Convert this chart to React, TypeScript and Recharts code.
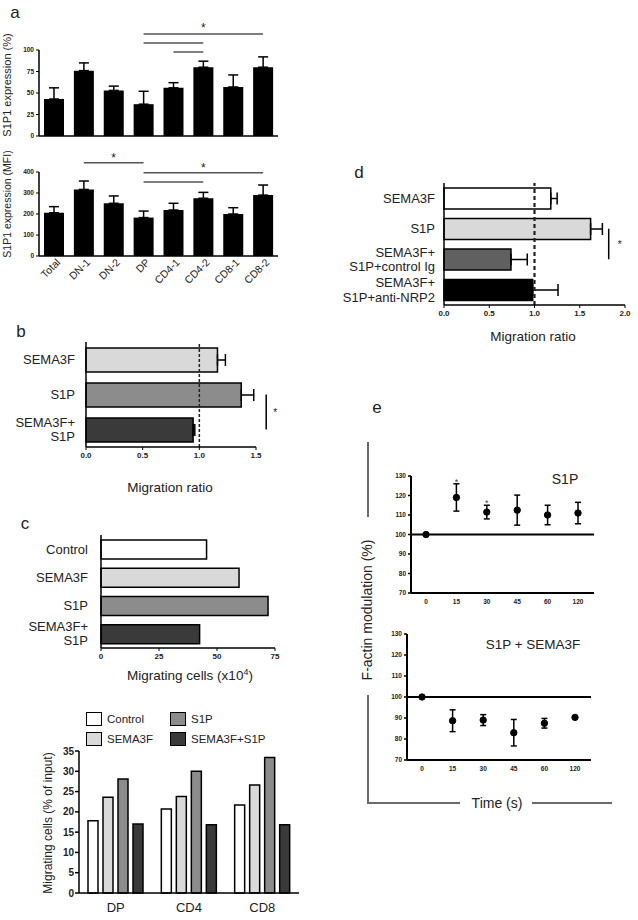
import React from "react";
import {
  BarChart,
  Bar,
  XAxis,
  YAxis,
  ErrorBar,
  ReferenceLine,
  Cell,
  ComposedChart,
  Line,
  LabelList,
} from "recharts";

const FONT = "'Liberation Sans', Arial, Helvetica, sans-serif";
const INK = "#222";
const PAGE_W = 638;
const PAGE_H = 920;

// panel a: S1P1 expression per thymocyte subset
const subsets = ["Total", "DN-1", "DN-2", "DP", "CD4-1", "CD4-2", "CD8-1", "CD8-2"];
const s1p1Pct = [43, 76, 53, 37, 56, 80, 57, 80];
const s1p1PctErr = [13, 9, 5, 15, 6, 7, 14, 12];
const s1p1Mfi = [206, 317, 251, 183, 219, 275, 200, 290];
const s1p1MfiErr = [29, 40, 35, 31, 32, 28, 30, 48];
const pctTicks = [0, 25, 50, 75, 100];
const mfiTicks = [0, 100, 200, 300, 400];

// panel b: migration ratio
const bGroups = ["SEMA3F", "S1P", "SEMA3F+\nS1P"];
const bRatio = [1.16, 1.37, 0.945];
const bErr = [0.07, 0.11, 0.015];
const bFill = ["#d9d9d9", "#8c8c8c", "#3a3a3a"];
const ratioTicks15 = [0, 0.5, 1, 1.5];

// panel c: migrating cells
const cGroups = ["Control", "SEMA3F", "S1P", "SEMA3F+\nS1P"];
const cCells = [45.5, 59.5, 72, 42.5];
const cFill = ["#ffffff", "#d9d9d9", "#8c8c8c", "#3a3a3a"];
const cTicks = [0, 25, 50, 75];

// panel c lower: % of input per subset
const migSubsets = ["DP", "CD4", "CD8"];
const migSeries = ["Control", "SEMA3F", "S1P", "SEMA3F+S1P"];
const migControl = [17.8, 20.7, 21.7];
const migSema = [23.6, 23.8, 26.6];
const migS1p = [28.1, 30, 33.4];
const migBoth = [17, 16.8, 16.8];
const migFill = ["#ffffff", "#d9d9d9", "#8c8c8c", "#3a3a3a"];
const migTicks = [0, 5, 10, 15, 20, 25, 30, 35];

// panel d: migration ratio with NRP2 blocking
const dGroups = ["SEMA3F", "S1P", "SEMA3F+\nS1P+control Ig", "SEMA3F+\nS1P+anti-NRP2"];
const dRatio = [1.18, 1.62, 0.74, 0.98];
const dErr = [0.07, 0.13, 0.18, 0.28];
const dFill = ["#ffffff", "#d9d9d9", "#606060", "#000000"];
const ratioTicks20 = [0, 0.5, 1, 1.5, 2];

// panel e: F-actin modulation over time
const times = ["0", "15", "30", "45", "60", "120"];
const s1pActin = [100, 119, 111.5, 112.5, 110, 111];
const s1pActinErr = [0, 7, 3.5, 7.7, 5, 5.5];
const s1pStar = [null, 128, 117, null, null, null];
const bothActin = [100, 88.7, 89, 83, 87.5, 90.3];
const bothActinErr = [0, 5.2, 2.6, 6.3, 2.3, 0.4];
const actinTicks = [70, 80, 90, 100, 110, 120, 130];

const aData = subsets.map((name, i) => ({
  name,
  pct: s1p1Pct[i],
  pctErr: [0, s1p1PctErr[i]],
  mfi: s1p1Mfi[i],
  mfiErr: [0, s1p1MfiErr[i]],
}));
const bData = bGroups.map((name, i) => ({ name, v: bRatio[i], e: [0, bErr[i]] }));
const cData = cGroups.map((name, i) => ({ name, v: cCells[i] }));
const migData = migSubsets.map((name, i) => ({
  name,
  Control: migControl[i],
  SEMA3F: migSema[i],
  S1P: migS1p[i],
  "SEMA3F+S1P": migBoth[i],
}));
const dData = dGroups.map((name, i) => ({ name, v: dRatio[i], e: [0, dErr[i]] }));
const e1Data = times.map((t, i) => ({ t, v: s1pActin[i], e: s1pActinErr[i], star: s1pStar[i] }));
const e2Data = times.map((t, i) => ({ t, v: bothActin[i], e: bothActinErr[i] }));

// every chart covers the whole page; margins put its plot box in place
function frame(x0: number, y0: number, x1: number, y1: number, yw: number, xh: number) {
  return {
    width: PAGE_W,
    height: PAGE_H,
    margin: { top: y0, right: PAGE_W - x1, bottom: PAGE_H - y1 - xh, left: x0 - yw },
  };
}

const axisLine = { stroke: "#000", strokeWidth: 1.5 };
const tinyTick = { fontSize: 6.5, fontWeight: 700, fill: INK, fontFamily: FONT };
const smallTick = { fontSize: 8, fontWeight: 700, fill: INK, fontFamily: FONT };
const sigLine = { stroke: "#555", strokeWidth: 1.5 };
const starLabel = (pos: string, offset: number, size = 12) => ({
  value: "*",
  position: pos,
  offset,
  fontSize: size,
  fill: INK,
  fontFamily: FONT,
});

function catTick(size: number, lh: number) {
  return (props: any) => {
    const { x, y, payload } = props;
    const lines = String(payload.value).split("\n");
    const n = lines.length;
    return (
      <text x={x} y={y} textAnchor="end" fontSize={size} fill={INK} fontFamily={FONT}>
        {lines.map((l, i) => (
          <tspan key={i} x={x} y={y + (i - (n - 1) / 2) * lh + size * 0.35}>
            {l}
          </tspan>
        ))}
      </text>
    );
  };
}

const SlantTick = (props: any) => {
  const { x, y, payload } = props;
  const ax = x + 7;
  const ay = y + 7;
  return (
    <text
      x={ax}
      y={ay}
      transform={`rotate(-45 ${ax} ${ay})`}
      textAnchor="end"
      fontSize={10.5}
      fill={INK}
      fontFamily={FONT}
    >
      {payload.value}
    </text>
  );
};

const StarMark = (props: any) => {
  const { x, y, value } = props;
  if (value == null) return null;
  return (
    <text x={x} y={y + 5} textAnchor="middle" fontSize={9} fill="#444" fontFamily={FONT}>
      *
    </text>
  );
};

function Txt({ x, y, size = 13.5, rot = 0, children }: any) {
  return (
    <div
      style={{
        position: "absolute",
        left: x,
        top: y,
        transform: `translate(-50%, -50%) rotate(${rot}deg)`,
        fontSize: size,
        fontFamily: FONT,
        color: INK,
        whiteSpace: "nowrap",
        lineHeight: 1,
      }}
    >
      {children}
    </div>
  );
}

function Rule({ x, y, w, h }: any) {
  return <div style={{ position: "absolute", left: x, top: y, width: w, height: h, background: "#6b6b6b" }} />;
}

const Layer = ({ children }: any) => (
  <div style={{ position: "absolute", left: 0, top: 0 }}>{children}</div>
);

export default function App() {
  return (
    <div style={{ position: "absolute", left: 0, top: 0, width: PAGE_W, height: PAGE_H, background: "#fff", overflow: "hidden" }}>
      {/* a, top */}
      <Layer>
        <BarChart {...frame(39, 50, 278, 136, 39, 8)} data={aData}>
          <XAxis dataKey="name" height={8} tick={false} tickLine={false} axisLine={axisLine} />
          <YAxis width={39} domain={[0, 100]} ticks={pctTicks} tick={tinyTick} tickSize={3} tickMargin={2} tickLine={{ stroke: "#000" }} axisLine={axisLine} />
          <Bar dataKey="pct" fill="#000" barSize={20} isAnimationActive={false}>
            <ErrorBar dataKey="pctErr" direction="y" width={5} stroke="#000" strokeWidth={1.5} isAnimationActive={false} />
          </Bar>
          <ReferenceLine segment={[{ x: "DP", y: 118.6 }, { x: "CD8-2", y: 118.6 }]} ifOverflow="visible" {...sigLine} label={starLabel("top", 2)} />
          <ReferenceLine segment={[{ x: "DP", y: 108 }, { x: "CD4-2", y: 108 }]} ifOverflow="visible" {...sigLine} />
          <ReferenceLine segment={[{ x: "CD4-1", y: 97.7 }, { x: "CD4-2", y: 97.7 }]} ifOverflow="visible" {...sigLine} />
        </BarChart>
      </Layer>

      {/* a, bottom */}
      <Layer>
        <BarChart {...frame(39, 172, 278, 256, 39, 40)} data={aData}>
          <XAxis dataKey="name" height={40} tick={SlantTick} tickSize={0} tickMargin={0} tickLine={false} axisLine={axisLine} interval={0} />
          <YAxis width={39} domain={[0, 400]} ticks={mfiTicks} tick={tinyTick} tickSize={3} tickMargin={2} tickLine={{ stroke: "#000" }} axisLine={axisLine} />
          <Bar dataKey="mfi" fill="#000" barSize={20} isAnimationActive={false}>
            <ErrorBar dataKey="mfiErr" direction="y" width={5} stroke="#000" strokeWidth={1.5} isAnimationActive={false} />
          </Bar>
          <ReferenceLine segment={[{ x: "DN-1", y: 444 }, { x: "DP", y: 444 }]} ifOverflow="visible" {...sigLine} label={starLabel("top", 1)} />
          <ReferenceLine segment={[{ x: "DP", y: 397 }, { x: "CD8-2", y: 397 }]} ifOverflow="visible" {...sigLine} label={starLabel("top", 1)} />
          <ReferenceLine segment={[{ x: "DP", y: 352 }, { x: "CD4-2", y: 352 }]} ifOverflow="visible" {...sigLine} />
        </BarChart>
      </Layer>

      {/* b */}
      <Layer>
        <BarChart layout="vertical" {...frame(86, 342, 256, 447, 86, 14)} data={bData}>
          <XAxis type="number" domain={[0, 1.5]} ticks={ratioTicks15} tickFormatter={(v) => v.toFixed(1)} height={14} tick={smallTick} tickSize={3} tickMargin={2} tickLine={{ stroke: "#000" }} axisLine={axisLine} />
          <YAxis type="category" dataKey="name" width={86} tick={catTick(13, 14)} tickSize={0} tickMargin={11} tickLine={false} axisLine={axisLine} interval={0} />
          <ReferenceLine x={1} stroke={INK} strokeWidth={1.5} strokeDasharray="3 2" />
          <Bar dataKey="v" barSize={24} stroke="#000" strokeWidth={1.5} isAnimationActive={false}>
            {bData.map((d, i) => (
              <Cell key={d.name} fill={bFill[i]} />
            ))}
            <ErrorBar dataKey="e" direction="x" width={6} stroke="#000" strokeWidth={1.5} isAnimationActive={false} />
          </Bar>
          <ReferenceLine segment={[{ x: 1.59, y: "S1P" }, { x: 1.59, y: "SEMA3F+\nS1P" }]} ifOverflow="visible" stroke="#000" strokeWidth={1.5} label={starLabel("right", 7, 10)} />
        </BarChart>
      </Layer>

      {/* c */}
      <Layer>
        <BarChart layout="vertical" {...frame(101, 535, 275, 648, 101, 14)} data={cData}>
          <XAxis type="number" domain={[0, 75]} ticks={cTicks} height={14} tick={smallTick} tickSize={3} tickMargin={2} tickLine={{ stroke: "#000" }} axisLine={axisLine} />
          <YAxis type="category" dataKey="name" width={101} tick={catTick(13, 14)} tickSize={0} tickMargin={13} tickLine={false} axisLine={axisLine} interval={0} />
          <Bar dataKey="v" barSize={19} stroke="#000" strokeWidth={1.5} isAnimationActive={false}>
            {cData.map((d, i) => (
              <Cell key={d.name} fill={cFill[i]} />
            ))}
          </Bar>
        </BarChart>
      </Layer>

      {/* c, grouped */}
      <Layer>
        <BarChart {...frame(79, 751, 299, 893, 79, 24)} data={migData} barGap={5}>
          <XAxis dataKey="name" height={24} tick={{ fontSize: 13, fill: INK, fontFamily: FONT }} tickSize={0} tickMargin={10} tickLine={false} axisLine={axisLine} />
          <YAxis width={79} domain={[0, 35]} ticks={migTicks} tick={{ fontSize: 10, fontWeight: 700, fill: INK, fontFamily: FONT }} tickSize={4} tickMargin={1} tickLine={{ stroke: "#000", strokeWidth: 1.5 }} axisLine={axisLine} />
          {migSeries.map((s, i) => (
            <Bar key={s} dataKey={s} fill={migFill[i]} stroke="#000" strokeWidth={1.5} barSize={10} isAnimationActive={false} />
          ))}
        </BarChart>
      </Layer>

      {/* d */}
      <Layer>
        <BarChart layout="vertical" {...frame(444, 183, 625, 305, 444, 14)} data={dData}>
          <XAxis type="number" domain={[0, 2]} ticks={ratioTicks20} tickFormatter={(v) => v.toFixed(1)} height={14} tick={smallTick} tickSize={3} tickMargin={2} tickLine={{ stroke: "#000" }} axisLine={axisLine} />
          <YAxis type="category" dataKey="name" width={444} tick={catTick(13, 14.5)} tickSize={0} tickMargin={9} tickLine={false} axisLine={axisLine} interval={0} />
          <Bar dataKey="v" barSize={21} stroke="#000" strokeWidth={1.5} isAnimationActive={false}>
            {dData.map((d, i) => (
              <Cell key={d.name} fill={dFill[i]} />
            ))}
            <ErrorBar dataKey="e" direction="x" width={6} stroke="#000" strokeWidth={1.5} isAnimationActive={false} />
          </Bar>
          <ReferenceLine x={1} stroke={INK} strokeWidth={2.2} strokeDasharray="4 3" />
          <ReferenceLine segment={[{ x: 1.82, y: "S1P" }, { x: 1.82, y: "SEMA3F+\nS1P+control Ig" }]} ifOverflow="visible" stroke="#000" strokeWidth={1.5} label={starLabel("right", 9, 10)} />
        </BarChart>
      </Layer>

      {/* e, S1P */}
      <Layer>
        <ComposedChart {...frame(411, 476, 594, 593, 411, 14)} data={e1Data}>
          <XAxis dataKey="t" height={14} padding={{ left: 15, right: 16 }} tick={tinyTick} tickSize={0} tickMargin={6} tickLine={false} axisLine={{ stroke: "#000", strokeWidth: 2 }} />
          <YAxis width={411} domain={[70, 130]} ticks={actinTicks} tick={tinyTick} tickSize={3} tickMargin={2} tickLine={{ stroke: "#000", strokeWidth: 1.5 }} axisLine={{ stroke: "#000", strokeWidth: 2 }} />
          <ReferenceLine y={100} stroke="#000" strokeWidth={2} />
          <Line dataKey="v" stroke="none" dot={{ r: 3.2, fill: "#000", stroke: "#000" }} isAnimationActive={false}>
            <ErrorBar dataKey="e" direction="y" width={3} stroke="#000" strokeWidth={1.5} isAnimationActive={false} />
          </Line>
          <Line dataKey="star" stroke="none" dot={false} isAnimationActive={false}>
            <LabelList dataKey="star" content={StarMark} />
          </Line>
        </ComposedChart>
      </Layer>

      {/* e, S1P + SEMA3F */}
      <Layer>
        <ComposedChart {...frame(407, 634, 591, 760, 407, 14)} data={e2Data}>
          <XAxis dataKey="t" height={14} padding={{ left: 15, right: 16 }} tick={tinyTick} tickSize={0} tickMargin={6} tickLine={false} axisLine={{ stroke: "#000", strokeWidth: 2 }} />
          <YAxis width={407} domain={[70, 130]} ticks={actinTicks} tick={tinyTick} tickSize={3} tickMargin={2} tickLine={{ stroke: "#000", strokeWidth: 1.5 }} axisLine={{ stroke: "#000", strokeWidth: 2 }} />
          <ReferenceLine y={100} stroke="#000" strokeWidth={2} />
          <Line dataKey="v" stroke="none" dot={{ r: 3.2, fill: "#000", stroke: "#000" }} isAnimationActive={false}>
            <ErrorBar dataKey="e" direction="y" width={3} stroke="#000" strokeWidth={1.5} isAnimationActive={false} />
          </Line>
        </ComposedChart>
      </Layer>

      {/* legend for grouped bars */}
      {migSeries.map((s, i) => {
        const lx = [86, 170][Math.floor(i / 2)];
        const ly = [712, 732][i % 2];
        return (
          <div key={s}>
            <div style={{ position: "absolute", left: lx, top: ly, width: 14, height: 12, background: migFill[i], border: "1.5px solid #000" }} />
            <div style={{ position: "absolute", left: lx + 21, top: ly, fontSize: 11.5, lineHeight: "15px", fontFamily: FONT, color: INK, whiteSpace: "nowrap" }}>{s}</div>
          </div>
        );
      })}

      {/* panel letters */}
      <Txt x={15} y={12} size={17}>a</Txt>
      <Txt x={21} y={331} size={17}>b</Txt>
      <Txt x={25} y={523} size={17}>c</Txt>
      <Txt x={359} y={172} size={17}>d</Txt>
      <Txt x={377} y={407} size={17}>e</Txt>

      {/* axis titles */}
      <Txt x={7} y={85} size={11} rot={-90}>S1P1 expression (%)</Txt>
      <Txt x={7} y={204} size={10.5} rot={-90}>S1P1 expression (MFI)</Txt>
      <Txt x={170} y={488}>Migration ratio</Txt>
      <Txt x={190} y={675}>
        Migrating cells (x10<sup style={{ fontSize: 9 }}>4</sup>)
      </Txt>
      <Txt x={48} y={823} size={12} rot={-90}>Migrating cells (% of input)</Txt>
      <Txt x={533} y={337}>Migration ratio</Txt>
      <Txt x={565} y={479} size={14}>S1P</Txt>
      <Txt x={533} y={645} size={13.5}>S1P + SEMA3F</Txt>
      <Txt x={367} y={610} size={14} rot={-90}>F-actin modulation (%)</Txt>
      <Txt x={497} y={803} size={14}>Time (s)</Txt>

      {/* bracket around panel e */}
      <Rule x={367} y={442} w={1.5} h={75} />
      <Rule x={367} y={695} w={1.5} h={109} />
      <Rule x={367} y={802} w={93} h={1.5} />
      <Rule x={532} y={802} w={80} h={1.5} />
    </div>
  );
}
